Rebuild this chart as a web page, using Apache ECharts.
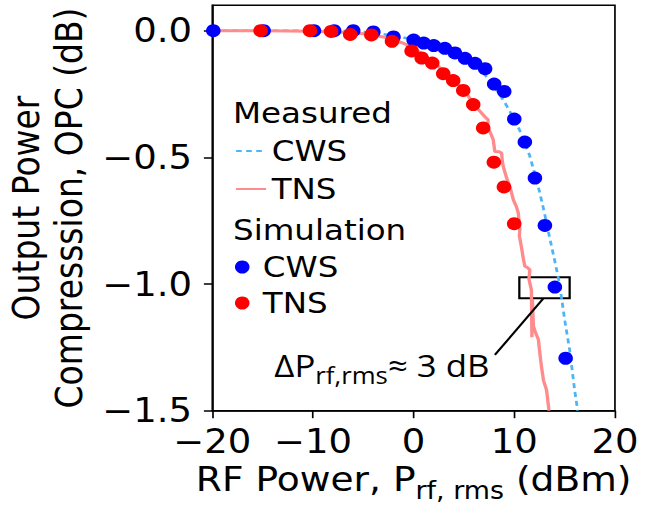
<!DOCTYPE html>
<html><head><meta charset="utf-8">
<script src="https://cdn.jsdelivr.net/npm/echarts@6/dist/echarts.min.js"></script>
<style>
html,body{margin:0;padding:0;background:#fff;overflow:hidden}
#c{width:587px;height:508px;transform:scaleX(1.120954);transform-origin:0 0;}
</style>
</head><body><div id="c"></div>
<script>
// ---- data ----
const xTicks = [-20, -10, 0, 10, 20];
const yTicks = [-1.5, -1.0, -0.5, 0.0];

const measCwsX = [-20,-16,-12,-8,-6,-4,-2,0,2,4,6,7,8,9,10,10.5,11,11.5,12,12.5,13,13.5,14,14.5,15,15.5,16,16.3];
const measCwsY = [0,0,0,0,-0.002,-0.008,-0.02,-0.035,-0.06,-0.09,-0.13,-0.17,-0.22,-0.28,-0.35,-0.39,-0.44,-0.49,-0.56,-0.635,-0.72,-0.815,-0.905,-1.0,-1.14,-1.26,-1.42,-1.5];

const measTnsX = [-20,-15,-10,-7,-5,-3,-2,-1,0,1,2,3,4,5,5.9,6.4,6.9,7.2,7.4,7.35,7.6,7.9,8.07,8.5,8.74,8.8,8.9,9.24,9.56,9.9,10.2,10.4,10.55,10.5,10.7,10.9,11.05,11.3,11.55,11.45,11.7,11.75,11.8,11.9,12.1,12.4,12.5,12.7,12.9,13.2,13.45];
const measTnsY = [0,0,-0.002,-0.006,-0.012,-0.025,-0.035,-0.05,-0.07,-0.095,-0.125,-0.16,-0.195,-0.235,-0.285,-0.31,-0.332,-0.345,-0.351,-0.384,-0.40,-0.43,-0.477,-0.478,-0.483,-0.51,-0.536,-0.582,-0.615,-0.667,-0.694,-0.72,-0.786,-0.81,-0.852,-0.90,-0.93,-0.935,-0.944,-0.98,-1.023,-1.21,-1.06,-1.168,-1.19,-1.22,-1.26,-1.326,-1.38,-1.418,-1.5];

const simCwsX = [-19.9,-14.9,-9.9,-7.9,-6.0,-4.0,-2.0,0.0,1.0,2.0,3.1,4.1,5.1,6.1,7.1,8.0,9.0,10.0,11.05,12.05,13.04,14.03,15.1];
const simCwsY = [0,0,0,0,0,-0.005,-0.025,-0.037,-0.049,-0.059,-0.07,-0.088,-0.109,-0.129,-0.15,-0.211,-0.24,-0.349,-0.44,-0.582,-0.769,-1.012,-1.293];

const simTnsX = [-15.2,-10.3,-8.2,-6.3,-4.2,-2.15,-0.2,0.8,1.85,2.94,3.93,4.93,5.92,6.91,7.97,8.97,9.99];
const simTnsY = [0,0,-0.003,-0.015,-0.017,-0.042,-0.08,-0.108,-0.128,-0.17,-0.197,-0.236,-0.292,-0.384,-0.519,-0.617,-0.762];

// annotation (data coordinates)
const boxX = [10.5, 15.5];
const boxY = [-0.973, -1.056];
const leaderFrom = [12.87, -1.058];
const leaderTo = [8.07, -1.28];
const annotAt = [7.58, -1.322];

const pairs = (xs, ys) => xs.map((x, i) => [x, ys[i]]);
const fmtNum = (v, d) => (v < 0 ? '\u2212' : '') + Math.abs(v).toFixed(d);

const FONT = 'DejaVu Sans';
const chart = echarts.init(document.getElementById('c'), null, {renderer: 'svg'});

chart.setOption({
  animation: false,
  backgroundColor: '#fff',
  grid: {left: 189.4, right: 38.4, top: 5.3, bottom: 97.3, show: true, borderColor: '#000', borderWidth: 1.5, outerBoundsMode: 'none'},
  xAxis: {
    type: 'value', min: -20, max: 20, interval: 10,
    axisLine: {show: true, onZero: false, lineStyle: {color: '#000', width: 1.5}},
    axisTick: {show: true, length: 7.5, lineStyle: {color: '#000', width: 1.5}},
    splitLine: {show: false},
    axisLabel: {color: '#000', fontFamily: FONT, fontSize: 33, margin: 14, formatter: v => fmtNum(v, 0)},
    name: '{a|RF Power, P}{s|rf, rms}{a| (dBm)}',
    nameLocation: 'middle', nameGap: 38,
    nameTextStyle: {
      color: '#000', fontFamily: FONT,
      rich: {
        a: {fontFamily: FONT, fontSize: 33.5, lineHeight: 46, color: '#000'},
        s: {fontFamily: FONT, fontSize: 24, lineHeight: 25, verticalAlign: 'bottom', color: '#000'}
      }
    }
  },
  yAxis: {
    type: 'value', min: -1.5, max: 0.1,
    axisLine: {show: true, onZero: false, lineStyle: {color: '#000', width: 1.5}},
    axisTick: {show: true, length: 7.5, customValues: yTicks, lineStyle: {color: '#000', width: 1.5}},
    splitLine: {show: false},
    axisLabel: {color: '#000', fontFamily: FONT, fontSize: 33, margin: 18, customValues: yTicks, formatter: v => fmtNum(v, 1)},
    name: 'Output Power\nCompresssion, OPC (dB)',
    nameLocation: 'middle', nameGap: 101.5,
    nameTextStyle: {color: '#000', fontFamily: FONT, fontSize: 33, lineHeight: 38}
  },
  legend: [
    {
      orient: 'vertical', left: 209.6, top: 136, padding: 0, itemGap: 8,
      itemWidth: 26.8, itemHeight: 14,
      itemStyle: {opacity: 0},
      data: ['CWS measured', 'TNS measured'],
      formatter: n => n.split(' ')[0],
      textStyle: {fontFamily: FONT, fontSize: 29, lineHeight: 30, color: '#000'}
    },
    {
      orient: 'vertical', left: 209.6, top: 252, padding: 0, itemGap: 6,
      itemWidth: 26.8, itemHeight: 13, icon: 'circle',
      data: ['CWS simulation', 'TNS simulation'],
      formatter: n => n.split(' ')[0],
      textStyle: {fontFamily: FONT, fontSize: 29, lineHeight: 30, color: '#000'}
    }
  ],
  graphic: [
    {type: 'text', x: 207.9, y: 113, style: {text: 'Measured', font: '29px "DejaVu Sans"', fill: '#000', verticalAlign: 'middle', align: 'left'}},
    {type: 'text', x: 207.9, y: 230, style: {text: 'Simulation', font: '29px "DejaVu Sans"', fill: '#000', verticalAlign: 'middle', align: 'left'}}
  ],
  series: [
    {
      name: 'CWS measured', type: 'line', symbol: 'none', data: pairs(measCwsX, measCwsY),
      lineStyle: {color: '#4cb5f7', width: 2.5, type: [5, 4]}, itemStyle: {color: '#4cb5f7'},
      z: 2
    },
    {
      name: 'TNS measured', type: 'line', symbol: 'none', data: pairs(measTnsX, measTnsY),
      lineStyle: {color: '#ff8c8c', width: 3}, itemStyle: {color: '#ff8c8c'},
      z: 2,
      markArea: {
        silent: true,
        itemStyle: {color: 'rgba(0,0,0,0)', borderColor: '#000', borderWidth: 2},
        label: {show: false},
        data: [[{coord: [boxX[0], boxY[0]]}, {coord: [boxX[1], boxY[1]]}]]
      },
      markLine: {
        silent: true, symbol: ['none', 'none'],
        lineStyle: {color: '#000', width: 2, type: 'solid'},
        label: {show: false},
        data: [[{coord: leaderFrom}, {coord: leaderTo}]]
      },
      markPoint: {
        silent: true, symbol: 'circle', symbolSize: 1,
        itemStyle: {color: 'rgba(0,0,0,0)'},
        data: [{
          coord: annotAt,
          label: {
            show: true, position: 'left', distance: 0,
            formatter: '{a|\u0394P}{s|rf,rms}{a|\u2248 3 dB}',
            rich: {
              a: {fontFamily: 'Open Sans', fontSize: 31, lineHeight: 42, color: '#000'},
              s: {fontFamily: 'Open Sans', fontSize: 23, lineHeight: 24, verticalAlign: 'bottom', color: '#000'}
            }
          }
        }]
      }
    },
    {
      name: 'CWS simulation', type: 'scatter', symbol: 'circle', symbolSize: 13,
      data: pairs(simCwsX, simCwsY), itemStyle: {color: '#0000ff', opacity: 1}, z: 3
    },
    {
      name: 'TNS simulation', type: 'scatter', symbol: 'circle', symbolSize: 13,
      data: pairs(simTnsX, simTnsY), itemStyle: {color: '#ff0000', opacity: 1}, z: 4
    }
  ]
});
</script>
</body></html>
